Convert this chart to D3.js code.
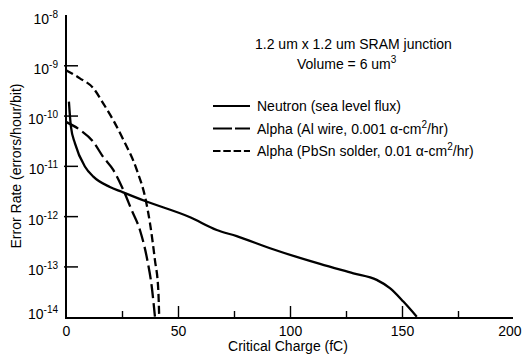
<!DOCTYPE html>
<html>
<head>
<meta charset="utf-8">
<script src="https://cdn.jsdelivr.net/npm/d3@7"></script>
<style>
  html, body { margin: 0; padding: 0; background: #fff; }
  svg { display: block; font-family: 'Liberation Sans', Arial, sans-serif; }
</style>
</head>
<body>
<div id="chart"></div>
<script>
// critical charge (fC) vs error rate (errors/hour/bit)
const neutronCharge = [1.3, 2.2, 4.0, 8.5, 12.2, 19.6, 24.9, 35.3, 55.4, 67.3, 76.2, 91.1, 113.4, 128.3, 138.7, 144.6, 150.6, 156.6];
const neutronRate = [1.9e-10, 6.0e-11, 2.8e-11, 9.6e-12, 6.1e-12, 3.8e-12, 3.05e-12, 2.0e-12, 9.5e-13, 5.3e-13, 4.0e-13, 2.3e-13, 1.12e-13, 7.3e-14, 5.4e-14, 3.7e-14, 2.0e-14, 1.0e-14];

const alWireCharge = [0, 6.2, 12.2, 16.6, 21.1, 25.6, 29.3, 33.0, 36.3, 38.3, 39.7];
const alWireRate = [7.5e-11, 5.2e-11, 3.0e-11, 1.5e-11, 8.3e-12, 3.3e-12, 1.32e-12, 5.3e-13, 1.34e-13, 3.9e-14, 1.0e-14];

const pbSnCharge = [0, 6.2, 12.2, 16.6, 21.1, 25.6, 31.6, 35.7, 37.5, 39.7, 41.2, 41.6];
const pbSnRate = [8.0e-10, 5.5e-10, 3.5e-10, 1.75e-10, 8.1e-11, 3.3e-11, 8.3e-12, 2.0e-12, 7.2e-13, 1.34e-13, 3.4e-14, 1.0e-14];

const seriesNames = [
  'Neutron (sea level flux)',
  'Alpha (Al wire, 0.001 α-cm^2/hr)',
  'Alpha (PbSn solder, 0.01 α-cm^2/hr)',
];
const xTicks = [0, 25, 50, 75, 100, 125, 150, 175, 200];
const yTicks = [-14, -13, -12, -11, -10, -9, -8];
const notes = ['1.2 um x 1.2 um SRAM junction', 'Volume = 6 um^3'];

const width = 522;
const height = 358;
const plotLeft = 66;
const plotRight = 514;
const plotTop = 15;
const plotBottom = 316.7;

const chartDash = ['none', '14,5', '8,4'];
const legendDash = ['none', '19,3', '7.5,2.8'];

const svg = d3.select('#chart')
  .append('svg')
  .attr('width', width)
  .attr('height', height);

svg.append('rect')
  .attr('width', width)
  .attr('height', height)
  .attr('fill', '#fff');

const xScale = d3.scaleLinear()
  .domain([0, 200])
  .range([plotLeft, plotRight]);

const yScale = d3.scaleLog()
  .domain([1e-14, 1e-8])
  .range([plotBottom, plotTop]);

// writes "a^2" style text as text + raised tspan
function richText(sel, str, supSize) {
  const parts = str.split(/\^(\d+)/);
  parts.forEach((p, i) => {
    if (p === '') return;
    if (i % 2 === 1) {
      sel.append('tspan')
        .attr('font-size', supSize)
        .attr('dy', -6)
        .text(p);
    } else {
      sel.append('tspan')
        .attr('dy', i > 0 ? 6 : 0)
        .text(p);
    }
  });
}

// x axis
const xAxis = d3.axisBottom(xScale)
  .tickValues(xTicks)
  .tickSizeInner(-12)
  .tickSizeOuter(0)
  .tickPadding(8)
  .tickFormat((d) => (d % 50 === 0 ? d : ''));

const gx = svg.append('g')
  .attr('transform', `translate(0, ${plotBottom + 1.3})`)
  .call(xAxis);
gx.attr('font-family', null);

gx.select('.domain')
  .attr('stroke-width', 2)
  .attr('d', `M${plotLeft - 1},0H${plotRight - 1}`);
gx.selectAll('.tick line')
  .attr('stroke-width', 1.4)
  .attr('y2', (d) => (d % 50 === 0 ? -12 : -7))
  .attr('display', (d) => (d === 0 || d === 200 ? 'none' : null));
gx.selectAll('.tick text')
  .attr('font-size', 14)
  .attr('fill', '#000');
// last label sits against the right edge
gx.selectAll('.tick text')
  .filter((d) => d === 200)
  .attr('text-anchor', 'end')
  .attr('x', width - plotRight - 1);

// y axis
const yAxis = d3.axisLeft(yScale)
  .tickValues(yTicks.map((e) => 10 ** e))
  .tickSizeInner(-12)
  .tickSizeOuter(0)
  .tickFormat('');

const gy = svg.append('g')
  .attr('transform', `translate(${plotLeft}, 0)`)
  .call(yAxis);
gy.attr('font-family', null);

gy.select('.domain')
  .attr('stroke-width', 2)
  .attr('d', `M0,${plotTop}V${plotBottom + 2.3}`);
gy.selectAll('.tick line')
  .attr('stroke-width', 1.5)
  .attr('x1', -2)
  .attr('display', (d) => (d === 1e-14 || d === 1e-8 ? 'none' : null));

gy.selectAll('.tick')
  .append('text')
  .attr('x', -8)
  .attr('y', (d) => (d === 1e-14 ? 1.6 : 8))
  .attr('text-anchor', 'end')
  .attr('fill', '#000')
  .attr('font-size', 14)
  .each(function (d) {
    const t = d3.select(this);
    t.append('tspan').text('10');
    t.append('tspan')
      .attr('font-size', 10)
      .attr('dy', -6)
      .text(Math.round(Math.log10(d)));
  });

// axis titles
svg.append('text')
  .attr('x', (plotLeft + plotRight) / 2 - 2)
  .attr('y', 351)
  .attr('text-anchor', 'middle')
  .attr('font-size', 14)
  .text('Critical Charge (fC)');

svg.append('text')
  .attr('transform', 'translate(21, 166) rotate(-90)')
  .attr('text-anchor', 'middle')
  .attr('font-size', 14)
  .text('Error Rate (errors/hour/bit)');

// curves
const series = [
  neutronCharge.map((q, i) => [q, neutronRate[i]]),
  alWireCharge.map((q, i) => [q, alWireRate[i]]),
  pbSnCharge.map((q, i) => [q, pbSnRate[i]]),
];

const line = d3.line()
  .x((d) => xScale(d[0]))
  .y((d) => yScale(d[1]))
  .curve(d3.curveMonotoneX);

svg.append('g')
  .selectAll('path')
  .data(series)
  .enter()
  .append('path')
  .attr('d', line)
  .attr('fill', 'none')
  .attr('stroke', '#000')
  .attr('stroke-width', 2.3)
  .attr('stroke-dasharray', (d, i) => chartDash[i]);

// notes
svg.append('text')
  .attr('x', 255)
  .attr('y', 49)
  .attr('font-size', 14)
  .call(richText, notes[0], 10);

svg.append('text')
  .attr('x', 297)
  .attr('y', 69)
  .attr('font-size', 14)
  .call(richText, notes[1], 10);

// legend
const legend = svg.append('g')
  .selectAll('g')
  .data(seriesNames)
  .enter()
  .append('g')
  .attr('transform', (d, i) => `translate(213, ${106 + i * 22.5})`);

legend.append('line')
  .attr('x1', 0)
  .attr('x2', 37)
  .attr('stroke', '#000')
  .attr('stroke-width', 2.2)
  .attr('stroke-dasharray', (d, i) => legendDash[i]);

legend.append('text')
  .attr('x', 44)
  .attr('y', 5)
  .attr('font-size', 14)
  .each(function (d) {
    d3.select(this).call(richText, d, 10);
  });
</script>
</body>
</html>
